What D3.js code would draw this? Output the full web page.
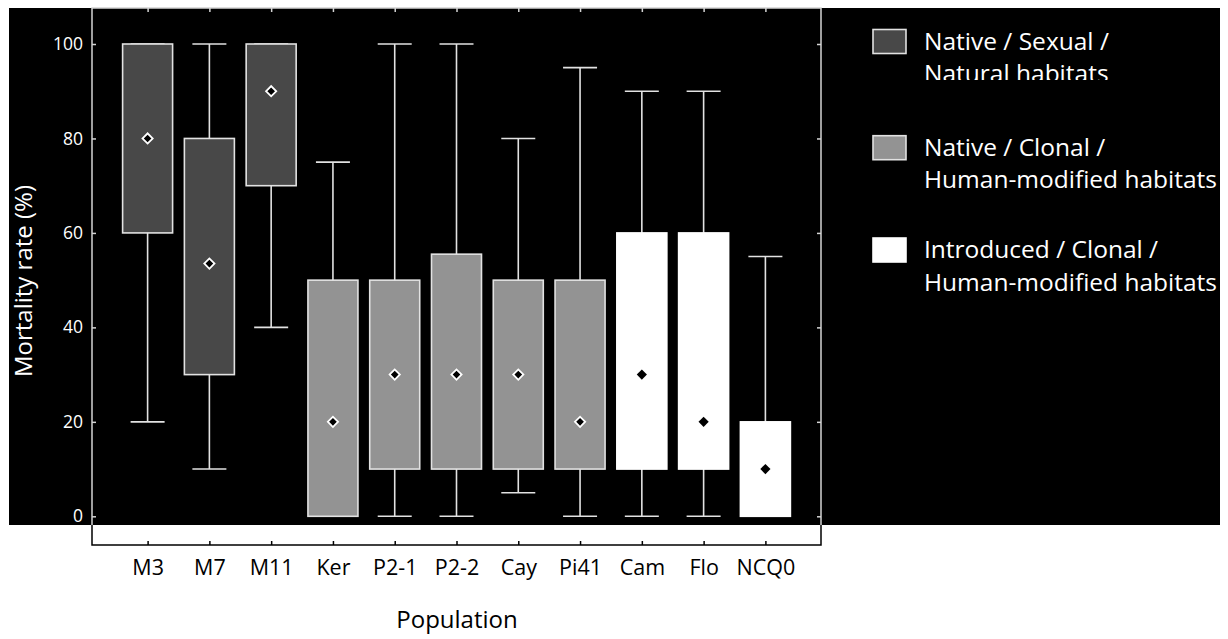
<!DOCTYPE html>
<meta charset="utf-8">
<style>
body { margin: 0; background: #fff; }
text { font-family: "Open Sans", sans-serif; }
.axis text { fill: #fff; }
</style>
<svg width="1228" height="639" id="chart"></svg>
<script src="https://cdn.jsdelivr.net/npm/d3@7/dist/d3.min.js"></script>
<script>

// data
var populations = ["M3", "M7", "M11", "Ker", "P2-1", "P2-2", "Cay", "Pi41", "Cam", "Flo", "NCQ0"];
var groups      = [0, 0, 0, 1, 1, 1, 1, 1, 2, 2, 2];
var boxLow      = [60, 30, 70, 0, 10, 10, 10, 10, 10, 10, 0];
var boxHigh     = [100, 80, 100, 50, 50, 55.5, 50, 50, 60, 60, 20];
var whiskLow    = [20, 10, 40, 0, 0, 0, 5, 0, 0, 0, 0];
var whiskHigh   = [100, 100, 100, 75, 100, 100, 80, 95, 90, 90, 55];
var means       = [80, 53.5, 90, 20, 30, 30, 30, 20, 30, 20, 10];
var yTicks      = [0, 20, 40, 60, 80, 100];
var legendLines = [
  ["Native / Sexual /", "Natural habitats"],
  ["Native / Clonal /", "Human-modified habitats"],
  ["Introduced / Clonal /", "Human-modified habitats"]
];
var groupFill = ["#484848", "#939393", "#ffffff"];
var groupStroke = ["#e2e2e2", "#e2e2e2", "#ffffff"];
var markStroke = ["#fff", "#fff", "none"];

var svg = d3.select("#chart");

var frameL = 92, frameR = 821, frameT = 8, frameB = 545, blackB = 525;

var x = d3.scalePoint()
    .domain(populations)
    .range([frameL, frameR])
    .padding(0.9);

var y = d3.scaleLinear()
    .domain([0, 100])
    .range([516.3, 44]);

var data = populations.map(function(p, i) {
  return { pop: p, group: groups[i], lo: boxLow[i], hi: boxHigh[i],
           wlo: whiskLow[i], whi: whiskHigh[i], mean: means[i] };
});

// black backdrop
svg.append("rect")
    .attr("x", 9).attr("y", frameT)
    .attr("width", 1211).attr("height", blackB - frameT)
    .attr("fill", "#000");

// frame (light on black, dark on white)
var frameCol = "#d4d4d4";
svg.append("path")
    .attr("d", "M" + frameL + "," + blackB + "V" + frameT + "H" + frameR + "V" + blackB)
    .attr("fill", "none").attr("stroke", frameCol).attr("stroke-width", 1.5);
svg.append("path")
    .attr("d", "M" + frameL + "," + blackB + "V" + frameB + "H" + frameR + "V" + blackB)
    .attr("fill", "none").attr("stroke", "#000").attr("stroke-width", 1.5);

// y axis left
var yAxis = svg.append("g")
    .attr("class", "axis")
    .attr("transform", "translate(" + frameL + ",0)")
    .call(d3.axisLeft(y).tickValues(yTicks).tickSizeInner(-4).tickSizeOuter(0).tickPadding(9));
yAxis.select(".domain").remove();
yAxis.selectAll("line").attr("stroke", frameCol).attr("stroke-width", 1.5);
yAxis.selectAll("text").style("font-size", "17.5px");

// y axis right (ticks only)
var yAxisR = svg.append("g")
    .attr("transform", "translate(" + frameR + ",0)")
    .call(d3.axisRight(y).tickValues(yTicks).tickSizeInner(-4).tickSizeOuter(0).tickFormat(""));
yAxisR.select(".domain").remove();
yAxisR.selectAll("line").attr("stroke", frameCol).attr("stroke-width", 1.5);

// top ticks
var xTop = svg.append("g")
    .attr("transform", "translate(0," + frameT + ")")
    .call(d3.axisTop(x).tickSizeInner(-4).tickSizeOuter(0).tickFormat(""));
xTop.select(".domain").remove();
xTop.selectAll("line").attr("stroke", frameCol).attr("stroke-width", 1.5);

// bottom axis
var xAxis = svg.append("g")
    .attr("transform", "translate(0," + frameB + ")")
    .call(d3.axisBottom(x).tickSizeInner(-4).tickSizeOuter(0).tickPadding(15));
xAxis.select(".domain").remove();
xAxis.selectAll("line").attr("stroke", "#000").attr("stroke-width", 1.5);
xAxis.selectAll("text").attr("fill", "#000").style("font-size", "21.5px");

// whiskers
var boxW = 50, capW = 34;
var wh = svg.append("g").attr("stroke", "#e2e2e2").attr("stroke-width", 1.6);
wh.selectAll(".stem").data(data).enter().append("line")
    .attr("x1", function(d) { return x(d.pop); })
    .attr("x2", function(d) { return x(d.pop); })
    .attr("y1", function(d) { return y(d.wlo); })
    .attr("y2", function(d) { return y(d.whi); });
wh.selectAll(".capLo").data(data).enter().append("line")
    .attr("x1", function(d) { return x(d.pop) - capW / 2; })
    .attr("x2", function(d) { return x(d.pop) + capW / 2; })
    .attr("y1", function(d) { return y(d.wlo); })
    .attr("y2", function(d) { return y(d.wlo); });
wh.selectAll(".capHi").data(data).enter().append("line")
    .attr("x1", function(d) { return x(d.pop) - capW / 2; })
    .attr("x2", function(d) { return x(d.pop) + capW / 2; })
    .attr("y1", function(d) { return y(d.whi); })
    .attr("y2", function(d) { return y(d.whi); });

// boxes
svg.append("g").selectAll("rect").data(data).enter().append("rect")
    .attr("x", function(d) { return x(d.pop) - boxW / 2; })
    .attr("y", function(d) { return y(d.hi); })
    .attr("width", boxW)
    .attr("height", function(d) { return y(d.lo) - y(d.hi); })
    .attr("fill", function(d) { return groupFill[d.group]; })
    .attr("stroke", function(d) { return groupStroke[d.group]; })
    .attr("stroke-width", 1.6);

// mean diamonds
svg.append("g").selectAll("path").data(data).enter().append("path")
    .attr("d", d3.symbol().type(d3.symbolSquare).size(52))
    .attr("transform", function(d) { return "translate(" + x(d.pop) + "," + y(d.mean) + ") rotate(45)"; })
    .attr("fill", "#000")
    .attr("stroke", function(d) { return markStroke[d.group]; })
    .attr("stroke-width", 1.8);

// axis titles
svg.append("text")
    .attr("transform", "translate(32,281) rotate(-90)")
    .attr("text-anchor", "middle")
    .attr("fill", "#fff")
    .style("font-size", "24px")
    .text("Mortality rate (%)");

svg.append("text")
    .attr("x", 457).attr("y", 628)
    .attr("text-anchor", "middle")
    .attr("fill", "#000")
    .style("font-size", "24px")
    .text("Population");

// legend
var legY = [49.5, 155.7, 258];
var leg = svg.append("g").selectAll("g").data(legendLines).enter().append("g")
    .attr("transform", function(d, i) { return "translate(873," + legY[i] + ")"; });
leg.append("rect")
    .attr("x", 0).attr("y", -20).attr("width", 33).attr("height", 24)
    .attr("fill", function(d, i) { return groupFill[i]; })
    .attr("stroke", function(d, i) { return groupStroke[i]; })
    .attr("stroke-width", 1.6);
leg.append("text")
    .attr("fill", "#fff")
    .style("font-size", "24.5px")
    .each(function(d) {
      var t = d3.select(this);
      t.append("tspan").attr("x", 51).attr("y", 0).text(d[0]);
      t.append("tspan").attr("x", 51).attr("y", 32.5).text(d[1]);
    });

// first legend's second line is cut off in the original figure
var leg0 = leg.filter(function(d, i) { return i === 0; });
leg0.append("clipPath").attr("id", "legclip")
  .append("rect").attr("x", 40).attr("y", -40).attr("width", 400).attr("height", 70.5);
leg0.select("text").attr("clip-path", "url(#legclip)");

</script>
